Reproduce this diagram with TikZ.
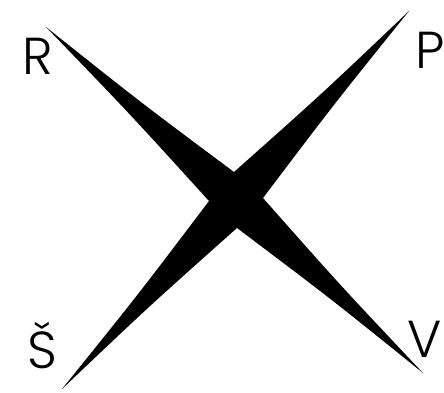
\documentclass[tikz,border=0pt]{standalone}
\usepackage{fontspec}
\setmainfont{Poppins Light}
\usetikzlibrary{calc}

\begin{document}
\begin{tikzpicture}[x=1pt,y=-1pt]
\useasboundingbox (0,0) rectangle (444,392);
\tikzset{corner/.style={inner sep=0pt,font=\fontsize{52}{52}\selectfont}}

\coordinate (c) at (236,200);
\coordinate (tl) at (46,27);
\coordinate (tr) at (409,11);
\coordinate (br) at (423,373);
\coordinate (bl) at (62,389);
\coordinate (ntop) at (234,172);
\coordinate (nright) at (263,198);
\coordinate (nbottom) at (237,228);
\coordinate (nleft) at (209,201);

% control points pulled a little towards each arm's axis
\foreach \t/\n/\k in {tl/ntop/a,tr/ntop/b,tr/nright/c,br/nright/d,
                       br/nbottom/e,bl/nbottom/f,bl/nleft/g,tl/nleft/h}
  \coordinate (k\k) at ($($(\t)!0.5!(\n)$)!0.18!($(\t)!0.5!(c)$)$);

\fill[black] (tl) .. controls (ka) .. (ntop)
  .. controls (kb) .. (tr)
  .. controls (kc) .. (nright)
  .. controls (kd) .. (br)
  .. controls (ke) .. (nbottom)
  .. controls (kf) .. (bl)
  .. controls (kg) .. (nleft)
  .. controls (kh) .. (tl) -- cycle;

\node[corner] (r) at (37.5,56.5) {R};
\node[corner] (p) at (430,50) {P};
\node[corner,anchor=base] (s) at (42,368) {Š};
\node[corner] (v) at (425,339) {V};
\end{tikzpicture}
\end{document}
